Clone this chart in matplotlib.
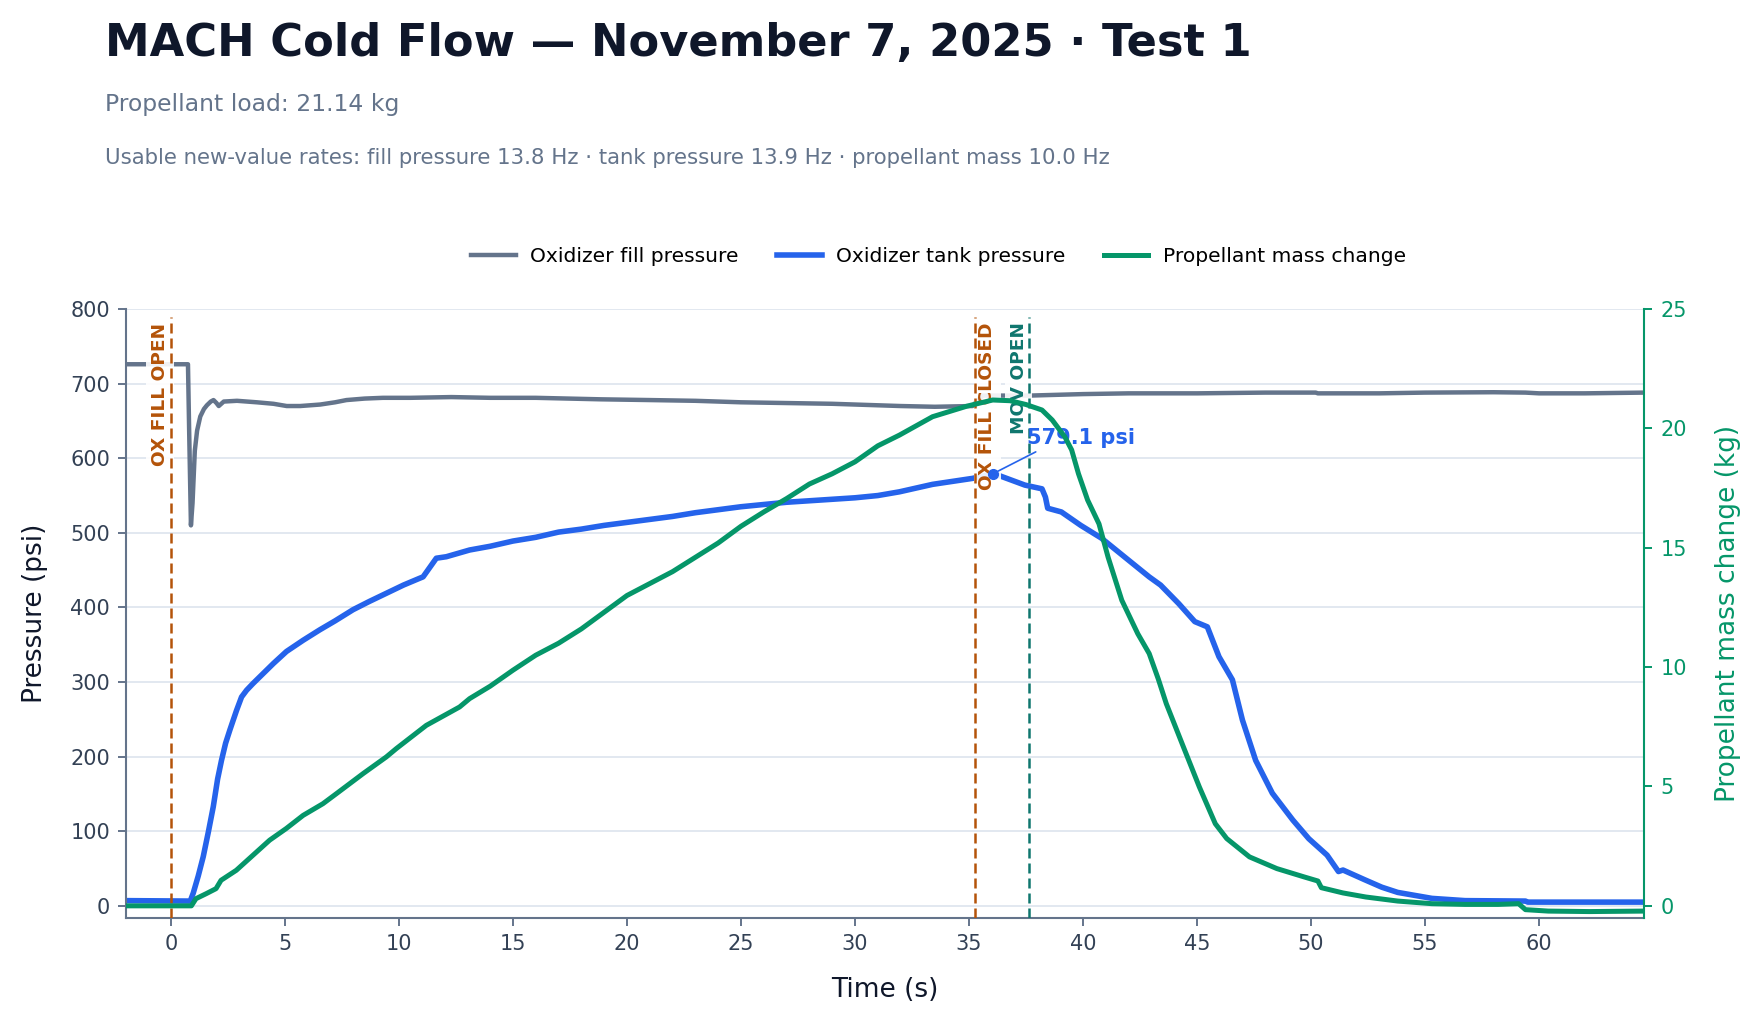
import matplotlib
matplotlib.use("Agg")
import matplotlib.pyplot as plt

# ---------------- data ----------------
fill_t = [-1.97, 0.75, 0.80, 0.88, 0.95, 1.05, 1.15, 1.29, 1.45, 1.58, 1.75, 1.87, 2.0, 2.1,
          2.32, 2.9, 3.77, 4.5, 5.08, 5.67, 6.55, 7.2, 7.7, 8.5, 9.3, 10.5, 12.3, 14, 16,
          18.85, 21, 23, 25, 27, 29, 31, 32, 33.5, 35.15, 35.6, 36.6, 37.65, 40, 42, 45,
          48, 50.2, 50.3, 53, 55, 58, 59.4, 60, 62, 64.62]
fill_p = [726, 726, 640, 510, 540, 610, 637, 656, 666, 671, 676, 678, 674, 670,
          676, 677, 675, 673, 670, 670, 672, 675, 678, 680, 681, 681, 682, 681, 681,
          679, 678, 677, 675, 674, 673, 671, 670, 669, 670, 684, 684, 684, 686, 687, 687,
          688, 688, 687, 687, 688, 688.5, 688, 687, 687, 688]

tank_t = [-1.97, 0.85, 0.98, 1.2, 1.42, 1.65, 1.86, 2.05, 2.22, 2.4, 2.59, 2.88, 3.1, 3.32,
          3.6, 3.9, 4.5, 5.07, 5.8, 6.53, 7.2, 7.99, 8.7, 9.45, 10.2, 10.9, 11.06, 11.64,
          12.08, 13.1, 14, 15, 16, 17, 18, 19, 20, 21, 22, 23, 24, 25, 26, 27, 28, 29, 30,
          31, 31.95, 33.4, 35.15, 36.04, 36.3, 37.45, 38.2, 38.35, 38.45, 39.05, 39.9,
          40.8, 41.97, 42.9, 43.4, 44.2, 44.9, 45.45, 45.96, 46.55, 46.99, 47.57, 48.3,
          49.2, 49.9, 50.7, 51.2, 51.4, 52.35, 53.1, 53.8, 55.3, 56.75, 59.4, 59.5, 64.62]
tank_p = [7, 6.4, 17, 40, 66, 100, 133, 170, 195, 218, 236, 262, 280, 289,
          298, 307, 325, 341, 356, 370, 382, 397, 408, 419, 430, 439, 441, 466,
          468, 477, 482, 489, 494, 501, 505, 510, 514, 518, 522, 527, 531, 535, 538, 541,
          543, 545, 547, 550, 555, 565, 573, 579.1, 577, 564, 559, 548, 533, 528, 510,
          493, 464, 441, 430, 405, 381, 374, 334, 303, 249, 195, 151,
          115, 90, 68, 46, 48, 35, 25, 18, 10, 7, 6.4, 5, 5]

mass_t = [-1.97, 0.9, 1.1, 1.55, 1.98, 2.2, 2.87, 3.6, 4.33, 5.06, 5.8, 6.67, 7.26, 8.43,
          9.45, 9.89, 11.2, 12.66, 13.1, 14, 15, 16, 17, 18, 19, 20, 21, 22, 23, 24, 25,
          26, 27, 28, 29, 30, 31, 31.95, 33.4, 34.9, 36.04, 36.8, 37.5, 38.2, 38.65, 39.2,
          39.5, 39.8, 40.2, 40.7, 41.1, 41.7, 42.4, 42.9, 43.3, 43.65, 44.4, 45.1, 45.8,
          46.3, 47.3, 48.5, 49.7, 50.3, 50.45, 51.4, 52.4, 53.8, 55.3, 56.75, 58.2, 59.1,
          59.4, 60.4, 62.2, 64.62]
mass_kg = [0, 0, 0.3, 0.51, 0.72, 1.07, 1.49, 2.12, 2.75, 3.24, 3.79, 4.28, 4.7, 5.54,
           6.24, 6.59, 7.56, 8.33, 8.68, 9.2, 9.87, 10.5, 11.0, 11.6, 12.3, 13.0, 13.5, 14.0,
           14.6, 15.2, 15.9, 16.5, 17.06, 17.67, 18.1, 18.6, 19.27, 19.72, 20.49, 20.93,
           21.19, 21.16, 21.0, 20.77, 20.35, 19.65, 19.1, 18.1, 17.0, 16.0, 14.6, 12.8,
           11.4, 10.57, 9.5, 8.47, 6.66, 4.98, 3.44, 2.82, 2.05, 1.56, 1.21, 1.04, 0.76,
           0.54, 0.37, 0.2, 0.09, 0.06, 0.06, 0.09, -0.16, -0.22, -0.24, -0.22]

event_t = [0.0, 35.28, 37.65]
event_labels = ["OX FILL OPEN", "OX FILL CLOSED", "MOV OPEN"]
event_colors = ["#b45309", "#b45309", "#0f766e"]
event_side = ["left", "right", "left"]

peak_t = 36.04
peak_p = 579.1

title = "MACH Cold Flow \u2014 November 7, 2025 \u00b7 Test 1"
subtitle1 = "Propellant load: 21.14 kg"
subtitle2 = ("Usable new-value rates: fill pressure 13.8 Hz \u00b7 tank pressure 13.9 Hz "
             "\u00b7 propellant mass 10.0 Hz")

# ---------------- style ----------------
C_FILL = "#64748b"
C_TANK = "#2563eb"
C_MASS = "#059669"
C_AX = "#64748b"
C_TICK = "#334155"
C_GRID = "#e2e8f0"

fig = plt.figure(figsize=(17.59, 10.23), dpi=100)
fig.patch.set_facecolor("white")
ax = fig.add_axes([0.0716, 0.1030, 0.8633, 0.5949])
ax2 = ax.twinx()

l1, = ax.plot(fill_t, fill_p, color=C_FILL, lw=3.2, zorder=2, solid_joinstyle="round")
l2, = ax.plot(tank_t, tank_p, color=C_TANK, lw=4.0, zorder=2.1, solid_joinstyle="round")
l3, = ax2.plot(mass_t, mass_kg, color=C_MASS, lw=3.6, zorder=2, solid_joinstyle="round")

ax.set_xlim(-1.97, 64.62)
ax.set_ylim(-15.8, 800)
ax2.set_ylim(-0.494, 25)

ax.set_xticks(range(0, 61, 5))
ax.set_yticks(range(0, 801, 100))
ax2.set_yticks(range(0, 26, 5))

ax.grid(axis="y", color=C_GRID, lw=1.4, zorder=0)
ax.grid(axis="x", visible=False)
ax.set_axisbelow(True)

for s in ["top", "right"]:
    ax.spines[s].set_visible(False)
for s in ["left", "bottom"]:
    ax.spines[s].set_color(C_AX)
    ax.spines[s].set_linewidth(1.5)
for s in ["top", "left", "bottom"]:
    ax2.spines[s].set_visible(False)
ax2.spines["right"].set_color(C_MASS)
ax2.spines["right"].set_linewidth(1.5)

ax.tick_params(axis="both", colors=C_AX, labelcolor=C_TICK, labelsize=15,
               length=5.5, width=1.4, pad=6)
ax2.tick_params(axis="y", colors=C_MASS, labelcolor=C_MASS, labelsize=15,
                length=5.5, width=1.4, pad=6)

ax.set_xlabel("Time (s)", fontsize=19, color="#0f172a", labelpad=17)
ax.set_ylabel("Pressure (psi)", fontsize=19, color="#0f172a", labelpad=16)
ax2.set_ylabel("Propellant mass change (kg)", fontsize=19, color=C_MASS, labelpad=20)

# event lines and labels
for t, lab, c, side in zip(event_t, event_labels, event_colors, event_side):
    ax.axvline(t, ymin=0, ymax=0.987, color=c, lw=1.8, ls=(0, (4, 2)), zorder=3.5)
    if side == "left":
        tx, ha = t - 0.08, "right"
    else:
        tx, ha = t + 0.12, "left"
    ax.text(tx, 0.978, lab, transform=ax.get_xaxis_transform(), rotation=90,
            ha=ha, va="top", fontsize=13.3, fontweight="bold", color=c, zorder=3,
            bbox=dict(boxstyle="square,pad=0.25", facecolor="white",
                      edgecolor="none", alpha=0.9))

# peak annotation
ax.plot([peak_t], [peak_p], "o", color=C_TANK, markersize=7, zorder=4)
ax.annotate(f"{peak_p:.1f} psi", xy=(peak_t, peak_p), xytext=(25, 21.6),
            textcoords="offset points", ha="left", va="baseline",
            fontsize=15, fontweight="bold", color=C_TANK, zorder=4,
            arrowprops=dict(arrowstyle="-", color=C_TANK, lw=1.2,
                            relpos=(0.15, 0.0), shrinkA=2, shrinkB=4))

# titles
fig.text(0.0597, 0.9453, title, fontsize=32.2, fontweight="bold", color="#0f172a",
         ha="left", va="baseline")
fig.text(0.0597, 0.8915, subtitle1, fontsize=16.9, color="#64748b",
         ha="left", va="baseline")
fig.text(0.0597, 0.8394, subtitle2, fontsize=15.3, color="#64748b",
         ha="left", va="baseline")

fig.legend([l1, l2, l3],
           ["Oxidizer fill pressure", "Oxidizer tank pressure", "Propellant mass change"],
           loc="center", bbox_to_anchor=(0.5335, 0.7488), ncol=3, frameon=False,
           fontsize=14.6, handlelength=2.2, handletextpad=0.7, columnspacing=1.9)

fig.savefig("out.png", dpi=100, facecolor="white")
